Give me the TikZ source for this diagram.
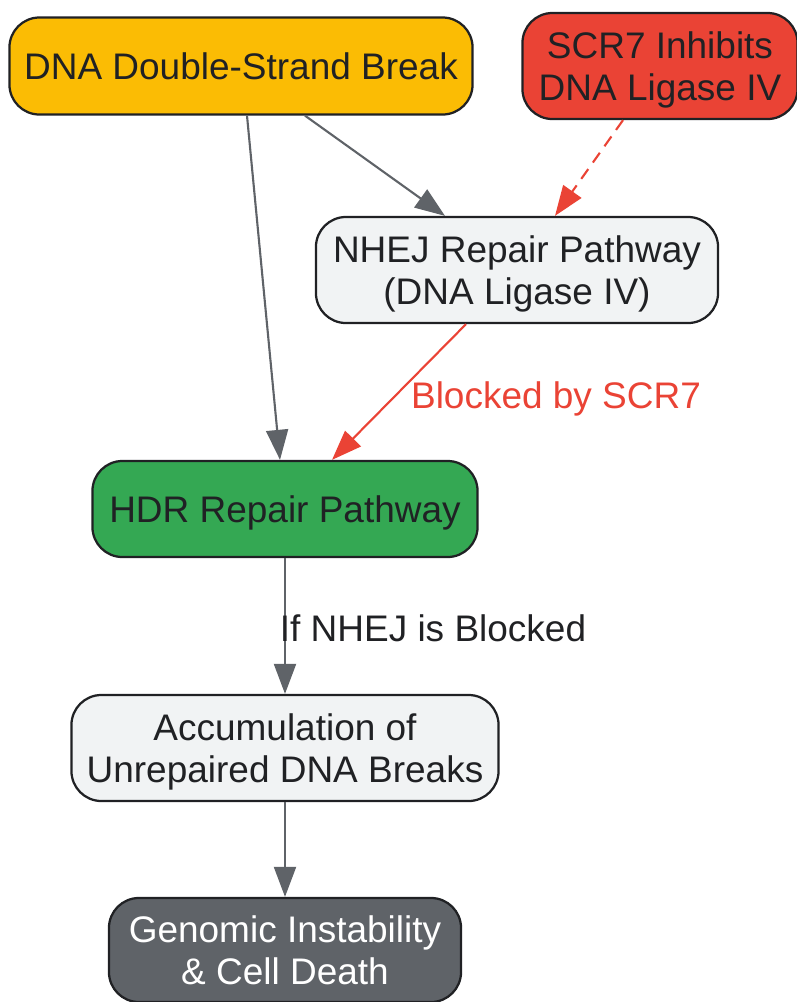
\documentclass[tikz,border=0pt]{standalone}
\usepackage{fontspec}
\setmainfont{Liberation Sans}
\usetikzlibrary{arrows.meta,calc}
\definecolor{dsbyellow}{HTML}{FBBC04}
\definecolor{scrred}{HTML}{EA4335}
\definecolor{hdrgreen}{HTML}{34A853}
\definecolor{palegray}{HTML}{F1F3F4}
\definecolor{darkgray}{HTML}{5F6368}
\definecolor{inkgray}{HTML}{202124}
\begin{document}
\begin{tikzpicture}[x=0.025cm,y=-0.025cm,
  box/.style={draw=inkgray,line width=1.6pt,rounded corners=0.75cm,align=center,
    text=inkgray,font=\fontsize{26.3}{29.9}\selectfont,inner sep=0pt,text depth=0pt},
  flow/.style={draw=darkgray,line width=1.5pt,-{Triangle[length=0.75cm,width=0.55cm]}},
  block/.style={draw=scrred,line width=1.5pt,-{Triangle[length=0.75cm,width=0.55cm]}},
  tag/.style={font=\fontsize{26.3}{29.9}\selectfont}]
\useasboundingbox (0,0) rectangle (797,1002);
\node[box,fill=dsbyellow,minimum width=11.575cm,minimum height=2.425cm] (dsb) at (241,66) {DNA Double-Strand Break};
\node[box,fill=scrred,minimum width=6.875cm,minimum height=2.65cm] (scr) at (660,66) {SCR7 Inhibits\\DNA Ligase IV};
\node[box,fill=palegray,minimum width=10.05cm,minimum height=2.65cm] (nhej) at (517,270) {NHEJ Repair Pathway\\(DNA Ligase IV)};
\node[box,fill=hdrgreen,minimum width=9.625cm,minimum height=2.4cm] (hdr) at (285,509) {HDR Repair Pathway};
\node[box,fill=palegray,minimum width=10.675cm,minimum height=2.65cm] (acc) at (285,748) {Accumulation of\\Unrepaired DNA Breaks};
\node[box,fill=darkgray,text=white,minimum width=8.8cm,minimum height=2.6cm] (gen) at (285,950) {Genomic Instability\\\& Cell Death};
% connectors
\draw[flow] ($(dsb.south)+(64,0)$) -- ($(nhej.north)+(-72,0)$);
\draw[flow] ($(dsb.south)+(6,0)$) -- ($(hdr.north)+(-5,0)$);
\draw[block,dashed,dash pattern=on 0.3cm off 0.2cm] ($(scr.south)+(-37,0)$) -- ($(nhej.north)+(38,0)$);
\draw[block] ($(nhej.south)+(-51,0)$) -- ($(hdr.north)+(47,0)$);
\node[tag,text=scrred] (lblock) at (556,399) {Blocked by SCR7};
\draw[flow] (hdr) -- (acc);
\node[tag,text=inkgray] (lif) at (433,628) {If NHEJ is Blocked};
\draw[flow] (acc) -- (gen);
\end{tikzpicture}
\end{document}
